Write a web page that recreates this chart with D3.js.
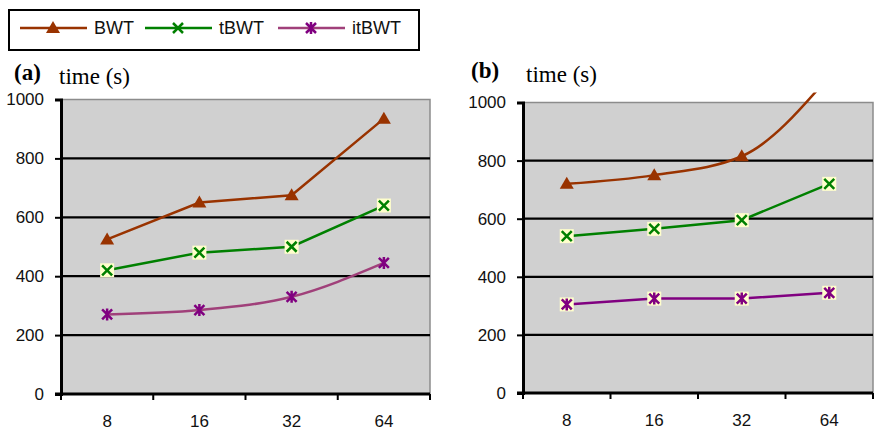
<!DOCTYPE html>
<html>
<head>
<meta charset="utf-8">
<script src="https://cdn.jsdelivr.net/npm/d3@7"></script>
<style>
  body { margin: 0; background: #fff; }
  svg text { font-family: Arial, "Liberation Sans", sans-serif; }
</style>
</head>
<body>
<svg id="chart" width="874" height="430"></svg>
<script>
// data
var categories = ['8', '16', '32', '64'];
var yTicks = [0, 200, 400, 600, 800, 1000];

var bwtA   = [525, 650, 675, 935];
var tbwtA  = [420, 480, 500, 640];
var itbwtA = [270, 285, 330, 445];

var bwtB   = [720, 750, 815, 1090];
var tbwtB  = [540, 565, 595, 720];
var itbwtB = [305, 325, 325, 345];

var svg = d3.select('#chart');

var colors = { bwt: '#993300', tbwt: '#008000', itbwt: '#800080', itbwtLine: '#a0407a' };

/**
 * marker drawers
 */
function drawMarker(g, type, x, y, boxed) {
  if (boxed) {
    g.append('rect')
      .attr('x', x - 7).attr('y', y - 7)
      .attr('width', 14).attr('height', 14)
      .attr('fill', '#ffffcc');
  }
  if (type === 'bwt') {
    g.append('path')
      .attr('d', 'M' + x + ',' + (y - 7) + 'L' + (x + 7) + ',' + (y + 5) + 'L' + (x - 7) + ',' + (y + 5) + 'Z')
      .attr('fill', colors.bwt);
  } else if (type === 'tbwt') {
    g.append('path')
      .attr('d', 'M' + (x - 5) + ',' + (y - 5) + 'L' + (x + 5) + ',' + (y + 5) +
                 'M' + (x + 5) + ',' + (y - 5) + 'L' + (x - 5) + ',' + (y + 5))
      .attr('stroke', colors.tbwt).attr('stroke-width', 2.5).attr('fill', 'none');
  } else {
    g.append('path')
      .attr('d', 'M' + (x - 5) + ',' + (y - 5) + 'L' + (x + 5) + ',' + (y + 5) +
                 'M' + (x + 5) + ',' + (y - 5) + 'L' + (x - 5) + ',' + (y + 5) +
                 'M' + x + ',' + (y - 6) + 'L' + x + ',' + (y + 6))
      .attr('stroke', colors.itbwt).attr('stroke-width', 2.5).attr('fill', 'none');
  }
}

/**
 * one panel
 */
function drawPanel(opts) {
  var g = svg.append('g').attr('class', 'panel');

  var x = d3.scaleBand().domain(categories).range([opts.left, opts.right]).padding(0);
  var y = d3.scaleLinear().domain([0, 1000]).range([opts.bottom, opts.top]);

  g.append('rect')
    .attr('x', opts.left).attr('y', opts.top)
    .attr('width', opts.right - opts.left).attr('height', opts.bottom - opts.top)
    .attr('fill', '#d0d0d0')
    .attr('stroke', '#8c8c8c').attr('stroke-width', 1.5);

  // gridlines
  g.selectAll('line.grid')
    .data(yTicks.filter(function (t) { return t > 0 && t < 1000; }))
    .enter().append('line')
    .attr('x1', opts.left).attr('x2', opts.right)
    .attr('y1', y).attr('y2', y)
    .attr('stroke', '#000').attr('stroke-width', 2.2);

  // y axis
  var yAxis = g.append('g')
    .attr('transform', 'translate(' + opts.left + ',0)')
    .call(d3.axisLeft(y).tickValues(yTicks).tickFormat(d3.format('d')).tickSize(6).tickPadding(11));
  yAxis.select('.domain').attr('stroke-width', 3);
  yAxis.selectAll('.tick line').attr('stroke-width', 2);
  yAxis.selectAll('.tick text').style('font-size', '17px').attr('fill', '#111');

  // x axis
  var xAxis = g.append('g')
    .attr('transform', 'translate(0,' + opts.bottom + ')')
    .call(d3.axisBottom(x).tickSize(0).tickPadding(21));
  xAxis.select('.domain').remove();
  xAxis.selectAll('.tick text').style('font-size', '17px').attr('fill', '#111');

  g.append('line')
    .attr('x1', opts.left - 6).attr('x2', opts.right)
    .attr('y1', opts.bottom).attr('y2', opts.bottom)
    .attr('stroke', '#000').attr('stroke-width', 3);

  var edges = categories.map(function (c) { return x(c); }).concat([opts.right]);
  g.selectAll('line.xtick').data(edges).enter().append('line')
    .attr('x1', function (d) { return d; }).attr('x2', function (d) { return d; })
    .attr('y1', opts.bottom).attr('y2', opts.bottom + 6)
    .attr('stroke', '#000').attr('stroke-width', 2);

  // clip for lines running off the top
  var clipId = 'clip-' + opts.name;
  svg.append('clipPath').attr('id', clipId)
    .append('rect')
    .attr('x', opts.left).attr('y', opts.top - 10)
    .attr('width', opts.right - opts.left).attr('height', opts.bottom - opts.top + 10);

  var cx = function (i) { return x(categories[i]) + x.bandwidth() / 2; };

  opts.series.forEach(function (s) {
    var line = d3.line()
      .x(function (d, i) { return cx(i); })
      .y(function (d) { return y(d); })
      .curve(s.smooth ? d3.curveMonotoneX : d3.curveLinear);

    g.append('path')
      .datum(s.values)
      .attr('d', line)
      .attr('fill', 'none')
      .attr('stroke', s.lineColor)
      .attr('stroke-width', 2.5)
      .attr('clip-path', 'url(#' + clipId + ')');

    var mg = g.append('g');
    s.values.forEach(function (v, i) {
      if (v <= 1000) drawMarker(mg, s.type, cx(i), y(v), s.boxed);
    });
  });

  // labels
  g.append('text')
    .attr('x', opts.labelX).attr('y', opts.labelY)
    .style('font-family', '"Times New Roman", "Liberation Serif", serif')
    .style('font-weight', 'bold').style('font-size', '23px')
    .text(opts.label);
  g.append('text')
    .attr('x', opts.titleX).attr('y', opts.labelY + 4)
    .style('font-family', '"Times New Roman", "Liberation Serif", serif')
    .style('font-size', '23px')
    .text('time (s)');
}

drawPanel({
  name: 'a', label: '(a)', labelX: 14, labelY: 80, titleX: 59,
  left: 61, right: 430, top: 99.5, bottom: 394,
  series: [
    { type: 'bwt', values: bwtA, lineColor: colors.bwt, smooth: false, boxed: false },
    { type: 'tbwt', values: tbwtA, lineColor: colors.tbwt, smooth: false, boxed: true },
    { type: 'itbwt', values: itbwtA, lineColor: colors.itbwtLine, smooth: true, boxed: false }
  ]
});

drawPanel({
  name: 'b', label: '(b)', labelX: 471, labelY: 78, titleX: 526,
  left: 523, right: 873, top: 102.5, bottom: 393,
  series: [
    { type: 'bwt', values: bwtB, lineColor: colors.bwt, smooth: true, boxed: false },
    { type: 'tbwt', values: tbwtB, lineColor: colors.tbwt, smooth: false, boxed: true },
    { type: 'itbwt', values: itbwtB, lineColor: colors.itbwt, smooth: false, boxed: true }
  ]
});

/**
 * legend
 */
var legend = svg.append('g').attr('class', 'legend');
legend.append('rect')
  .attr('x', 9).attr('y', 10).attr('width', 410).attr('height', 40)
  .attr('fill', '#fff').attr('stroke', '#000').attr('stroke-width', 2);

var legendItems = [
  { type: 'bwt', name: 'BWT', color: colors.bwt, x: 20, boxed: false },
  { type: 'tbwt', name: 'tBWT', color: colors.tbwt, x: 145, boxed: true },
  { type: 'itbwt', name: 'itBWT', color: colors.itbwtLine, x: 278, boxed: false }
];
legendItems.forEach(function (d) {
  legend.append('line')
    .attr('x1', d.x).attr('x2', d.x + 67)
    .attr('y1', 28).attr('y2', 28)
    .attr('stroke', d.color).attr('stroke-width', 2.5);
  drawMarker(legend, d.type, d.x + 33, 28, false);
  legend.append('text')
    .attr('x', d.x + 74).attr('y', 34)
    .style('font-size', '18px').attr('fill', '#111')
    .text(d.name);
});
</script>
</body>
</html>
